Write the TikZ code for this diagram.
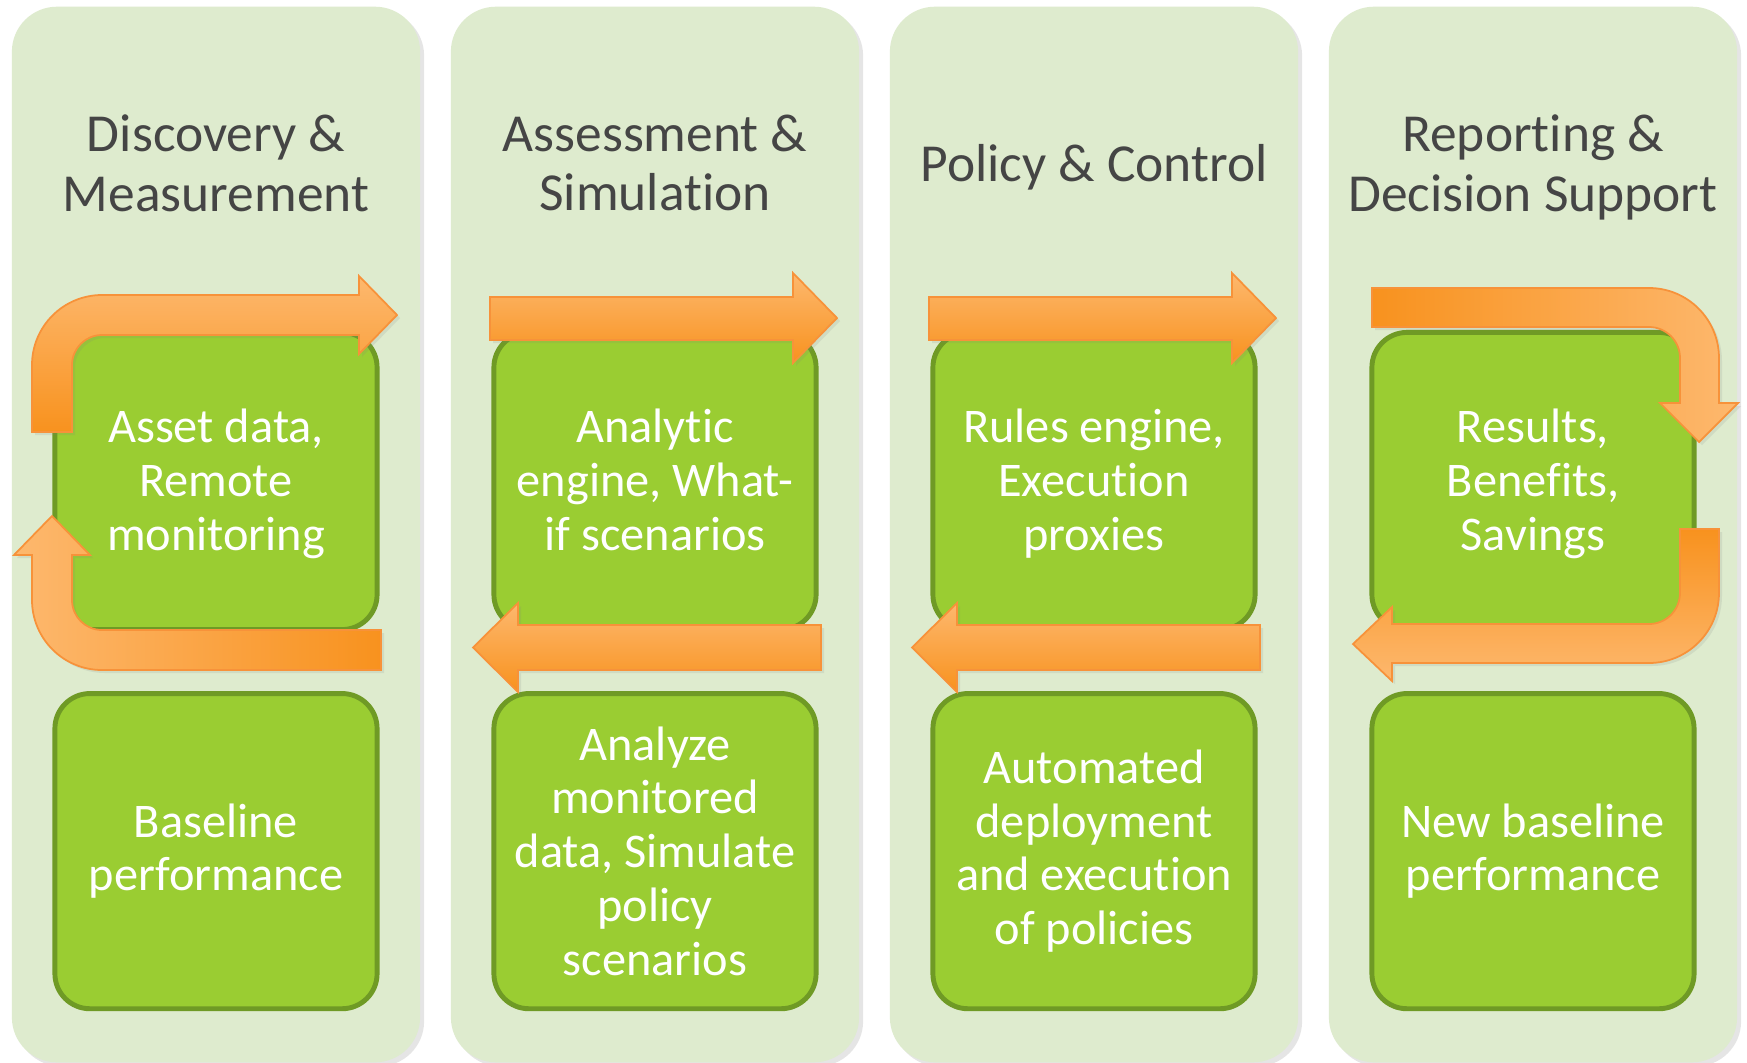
\documentclass[tikz,border=0pt]{standalone}
\usepackage{fontspec}
\setmainfont{Carlito}[Ligatures=NoCommon]
\usetikzlibrary{positioning, shadows}
\definecolor{panelgreen}{HTML}{DEEBCE}
\definecolor{boxgreen}{HTML}{9ACD32}
\definecolor{boxedge}{HTML}{6F9A25}
\definecolor{titlegray}{HTML}{454545}
\definecolor{arrowdark}{HTML}{F8921E}
\definecolor{arrowlight}{HTML}{FDB86E}
\definecolor{arrowedge}{HTML}{F7923A}

\begin{document}
\begin{tikzpicture}[x=0.01cm, y=-0.01cm]
	\tikzstyle{panel} = [fill=panelgreen, rounded corners=0.45cm, minimum width=4.08cm, minimum height=10.55cm, drop shadow={opacity=0.2, shadow xshift=0.4mm, shadow yshift=-0.4mm}];
	\tikzstyle{title} = [text=titlegray, align=center, inner sep=0pt, text depth=0.22em, font={\fontsize{15.2}{16.8}\selectfont}];
	\tikzstyle{box} = [draw=boxedge, fill=boxgreen, line width=1.4pt, rounded corners=0.35cm, minimum width=3.22cm, text=white, align=center, font={\fontsize{13.75}{15.3}\selectfont}];
	\tikzstyle{upper} = [box, minimum height=2.97cm, text depth=0.08em];
	\tikzstyle{lower} = [box, minimum height=3.15cm];
	\tikzstyle{block} = [draw=arrowedge, line width=0.5pt, drop shadow={opacity=0.15, shadow xshift=0.3mm, shadow yshift=-0.3mm}];

	\fill[white] (0,0) rectangle (1747,1063);
	\useasboundingbox (0,0) rectangle (1747,1063);

	\def \titles {{Discovery \&\\Measurement}, {Assessment \&\\Simulation}, {Policy \& Control}, {Reporting \&\\Decision Support}}
	\def \tools {{Asset data,\\Remote\\monitoring}, {Analytic\\engine, What-\\if scenarios}, {Rules engine,\\Execution\\proxies}, {Results,\\Benefits,\\Savings}}
	\def \results {{Baseline\\performance}, {Analyze\\monitored\\data, Simulate\\policy\\scenarios}, {Automated\\deployment\\and execution\\of policies}, {New baseline\\performance}}

	\foreach \x [count=\xi] in \titles {
		\pgfmathsetmacro{\cx}{216+439*(\xi-1)}
		\node[panel] (p\xi) at (\cx,534.5) {};
		\node[title] (t\xi) at (\cx,167) {\x};
	}

	\foreach \x [count=\xi] in \tools {
		\pgfmathsetmacro{\cx}{216+439*(\xi-1)}
		\node[upper] (u\xi) at (\cx,481) {\x};
	}

	\foreach \x [count=\xi] in \results {
		\node[lower, below=0.59cm of u\xi] (l\xi) {\x};
	}

	% first column: loop round the box
	\shade[block, top color=arrowlight, bottom color=arrowdark] (32,432) -- (32,365) arc (180:270:70) -- (359,295) -- (359,276) -- (397,315) -- (359,354) -- (359,335) -- (102,335) arc (270:180:30) -- (72,432) -- cycle;
	\shade[block, left color=arrowlight, right color=arrowdark] (381,630) -- (102,630) arc (90:180:30) -- (72,555) -- (90,555) -- (52,516) -- (14,555) -- (32,555) -- (32,600) arc (180:90:70) -- (381,670) -- cycle;

	% middle columns: straight arrows
	\foreach \dx in {0,439} {
		\shade[block, top color=arrowlight, bottom color=arrowdark] (490+\dx,297) -- (793+\dx,297) -- (793+\dx,273) -- (837+\dx,318) -- (793+\dx,363) -- (793+\dx,340) -- (490+\dx,340) -- cycle;
		\shade[block, top color=arrowlight, bottom color=arrowdark] (821+\dx,625) -- (518+\dx,625) -- (518+\dx,603) -- (473+\dx,647.5) -- (518+\dx,692) -- (518+\dx,670) -- (821+\dx,670) -- cycle;
	}

	% last column: turn down and back
	\shade[block, left color=arrowdark, right color=arrowlight] (1372,288) -- (1649,288) arc (270:360:70) -- (1719,403) -- (1738,403) -- (1699,442) -- (1660,403) -- (1680,403) -- (1680,358) arc (0:-90:31) -- (1372,327) -- cycle;
	\shade[block, top color=arrowdark, bottom color=arrowlight] (1680,529) -- (1719,529) -- (1719,593) arc (0:90:70) -- (1392,663) -- (1392,681) -- (1353,644) -- (1392,607) -- (1392,624) -- (1649,624) arc (90:0:31) -- cycle;
\end{tikzpicture}
\end{document}
